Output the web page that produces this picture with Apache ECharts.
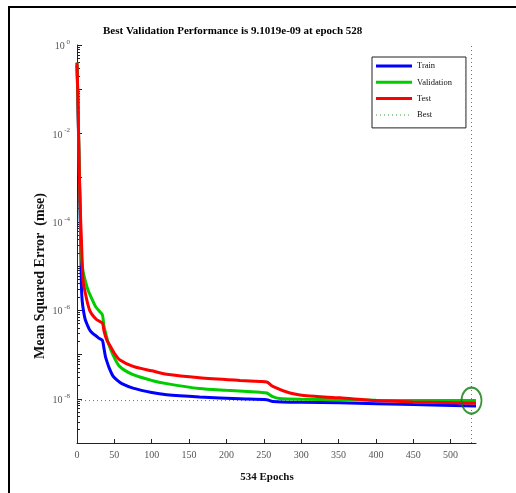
<!DOCTYPE html>
<html>
<head>
<meta charset="utf-8">
<script src="https://cdn.jsdelivr.net/npm/echarts@6/dist/echarts.min.js"></script>
<style>
  html, body { margin: 0; padding: 0; background: #fff; }
  #chart { width: 516px; height: 493px; }
</style>
</head>
<body>
<div id="chart"></div>
<script>
// Training record of the network: mean squared error per epoch
const trainEpochs = [0, 1, 2, 3, 4, 5, 6, 7, 9, 11, 14, 17, 21, 26, 30, 34, 36, 38, 40, 43, 48, 54, 60, 75, 100, 120, 164, 218, 254, 262, 300, 352, 450, 534];
const trainMse    = [0.35, 0.07, 0.01, 1.26e-3, 2.0e-4, 3.2e-5, 3.2e-6, 1.6e-6, 9.0e-7, 6.2e-7, 4.6e-7, 3.6e-7, 3.0e-7, 2.6e-7, 2.3e-7, 2.1e-7, 1.4e-7, 9.1e-8, 7.0e-8, 5.0e-8, 3.3e-8, 2.6e-8, 2.2e-8, 1.74e-8, 1.38e-8, 1.23e-8, 1.1e-8, 1.0e-8, 9.5e-9, 8.7e-9, 8.3e-9, 8.1e-9, 7.4e-9, 6.9e-9];

const valEpochs = [0, 1, 2, 3, 4, 5, 6, 8, 11, 15, 20, 25, 30, 34, 36, 38, 42, 48, 57, 75, 100, 120, 164, 200, 245, 254, 262, 271, 300, 400, 528, 534];
const valMse    = [0.40, 0.079, 0.0126, 1.8e-3, 3.2e-4, 5.0e-5, 1.6e-5, 7.9e-6, 4.7e-6, 2.8e-6, 1.8e-6, 1.2e-6, 9.5e-7, 7.9e-7, 4.5e-7, 3.2e-7, 1.8e-7, 1.0e-7, 5.4e-8, 3.5e-8, 2.6e-8, 2.2e-8, 1.7e-8, 1.55e-8, 1.4e-8, 1.35e-8, 1.12e-8, 1.02e-8, 9.8e-9, 9.3e-9, 9.1019e-9, 9.1e-9];

const testEpochs = [0, 1, 2, 3, 4, 5, 6, 8, 11, 17, 26, 34, 36, 40, 44, 50, 57, 75, 100, 120, 164, 218, 245, 254, 262, 285, 307, 352, 400, 450, 534];
const testMse    = [0.40, 0.089, 0.0126, 1.6e-3, 3.2e-4, 1.0e-4, 3.5e-5, 5.0e-6, 2.5e-6, 1.0e-6, 6.2e-7, 5.1e-7, 3.5e-7, 2.1e-7, 1.6e-7, 1.07e-7, 7.6e-8, 5.4e-8, 4.3e-8, 3.6e-8, 3.0e-8, 2.6e-8, 2.45e-8, 2.4e-8, 1.9e-8, 1.35e-8, 1.17e-8, 1.05e-8, 9.1e-9, 8.5e-9, 7.9e-9];

const bestEpoch = 528;
const bestPerf = 9.1019e-9;
const totalEpochs = 534;

// axis ticks
const xTicks = [0, 50, 100, 150, 200, 250, 300, 350, 400, 450, 500];
const yLabelExponents = [0, -2, -4, -6, -8];
const yMin = 1e-9, yMax = 1;

const serif = '"Liberation Serif", "DejaVu Serif", serif';

const zip = (xs, ys) => xs.map((x, i) => [x, ys[i]]);

// decade ticks and 2..9 minor ticks of the log axis
const decadeTicks = [];
const minorTicks = [];
for (let e = -9; e <= 0; e++) {
  decadeTicks.push(Math.pow(10, e));
  if (e < 0) for (let m = 2; m <= 9; m++) minorTicks.push(m * Math.pow(10, e));
}

// legend glyphs: a solid bar for the curves, a row of dots for the best marker
const solidIcon = 'path://M0,0H36V3H0Z';
let dotPath = 'path://M0,0h0.01v0.01h-0.01Z M36,3h0.01v0.01h-0.01Z';
for (let x = 0; x < 36; x += 4) dotPath += ' M' + x + ',1h1v1h-1Z';

const chart = echarts.init(document.getElementById('chart'), null, { renderer: 'canvas' });

chart.setOption({
  animation: false,
  backgroundColor: '#fff',
  title: {
    text: 'Best Validation Performance is 9.1019e-09 at epoch 528',
    left: 98, top: 21,
    textStyle: { fontFamily: serif, fontWeight: 'bold', fontSize: 11, color: '#000' }
  },
  legend: {
    orient: 'vertical',
    left: 372, top: 57,
    padding: [2, 14, 6, 4],
    itemGap: 2.3,
    itemWidth: 36, itemHeight: 3,
    borderColor: '#222', borderWidth: 1,
    backgroundColor: '#fff',
    textStyle: { fontFamily: serif, fontSize: 8.5, color: '#111', lineHeight: 11, padding: [0, 0, 3, 0] },
    data: [
      { name: 'Train', icon: solidIcon },
      { name: 'Validation', icon: solidIcon },
      { name: 'Test', icon: solidIcon },
      { name: 'Best', icon: dotPath }
    ]
  },
  grid: { left: 77, top: 45, right: 40, bottom: 50 },
  xAxis: {
    type: 'value',
    min: 0, max: totalEpochs, interval: 50,
    axisLine: { show: true, lineStyle: { color: '#222', width: 1 } },
    axisTick: { inside: true, length: 4, lineStyle: { color: '#222' }, customValues: xTicks },
    axisLabel: {
      customValues: xTicks,
      fontFamily: serif, fontSize: 10, color: '#555', margin: 7
    },
    splitLine: { show: false }
  },
  yAxis: [
    {
      type: 'log', logBase: 10,
      min: yMin, max: yMax,
      axisLine: { show: true, onZero: false, lineStyle: { color: '#222', width: 1 } },
      axisTick: { inside: true, length: 5, lineStyle: { color: '#222' }, customValues: decadeTicks },
      axisLabel: {
        customValues: yLabelExponents.map(e => Math.pow(10, e)),
        margin: 7,
        formatter: v => '{b|10}{s| ' + Math.round(Math.log10(v)) + '}',
        rich: {
          b: { fontFamily: serif, fontSize: 10, color: '#555', lineHeight: 13, verticalAlign: 'bottom' },
          s: { fontFamily: serif, fontSize: 7, color: '#555', lineHeight: 13, verticalAlign: 'top' }
        }
      },
      splitLine: { show: false }
    },
    {
      type: 'log', logBase: 10,
      min: yMin, max: yMax,
      position: 'left',
      axisLine: { show: false },
      axisTick: { inside: true, length: 3, lineStyle: { color: '#222' }, customValues: minorTicks },
      axisLabel: { show: false },
      splitLine: { show: false }
    }
  ],
  graphic: [
    {
      type: 'rect', silent: true,
      shape: { x: 9, y: 7, width: 600, height: 600 },
      style: { fill: 'none', stroke: '#000', lineWidth: 2 }
    },
    {
      type: 'text', silent: true,
      x: 40, y: 276, rotation: Math.PI / 2,
      style: {
        text: 'Mean Squared Error  (mse)',
        fontFamily: serif, fontWeight: 'bold', fontSize: 14, fill: '#111',
        align: 'center', verticalAlign: 'middle'
      }
    },
    {
      type: 'text', silent: true,
      x: 267, y: 477,
      style: {
        text: totalEpochs + ' Epochs',
        fontFamily: serif, fontWeight: 'bold', fontSize: 11, fill: '#111',
        align: 'center', verticalAlign: 'middle'
      }
    }
  ],
  series: [
    {
      name: 'Best', type: 'line', showSymbol: false, symbol: 'none', z: 1,
      data: [[0, bestPerf], [bestEpoch, bestPerf]],
      lineStyle: { color: '#2ea02e', width: 1, type: [1, 3] },
      itemStyle: { color: '#2ea02e' }
    },
    {
      name: 'Best', type: 'line', showSymbol: false, symbol: 'none', z: 1,
      data: [[bestEpoch, yMin], [bestEpoch, yMax]],
      lineStyle: { color: '#2ea02e', width: 1, type: [1, 3] },
      itemStyle: { color: '#2ea02e' }
    },
    {
      name: 'Train', type: 'line', showSymbol: false, symbol: 'none', smooth: 0.25, z: 3,
      data: zip(trainEpochs, trainMse),
      lineStyle: { color: '#0000ff', width: 3 },
      itemStyle: { color: '#0000ff' }
    },
    {
      name: 'Validation', type: 'line', showSymbol: false, symbol: 'none', smooth: 0.25, z: 4,
      data: zip(valEpochs, valMse),
      lineStyle: { color: '#00cc00', width: 3 },
      itemStyle: { color: '#00cc00' }
    },
    {
      name: 'Test', type: 'line', showSymbol: false, symbol: 'none', smooth: 0.25, z: 5,
      data: zip(testEpochs, testMse),
      lineStyle: { color: '#ff0000', width: 3 },
      itemStyle: { color: '#ff0000' }
    },
    {
      name: 'Best point', type: 'scatter', z: 6,
      data: [[bestEpoch, bestPerf]],
      symbol: 'circle', symbolSize: [20, 26],
      itemStyle: { color: 'rgba(0,0,0,0)', borderColor: '#0a7a0a', borderWidth: 2 }
    }
  ]
});
</script>
</body>
</html>
